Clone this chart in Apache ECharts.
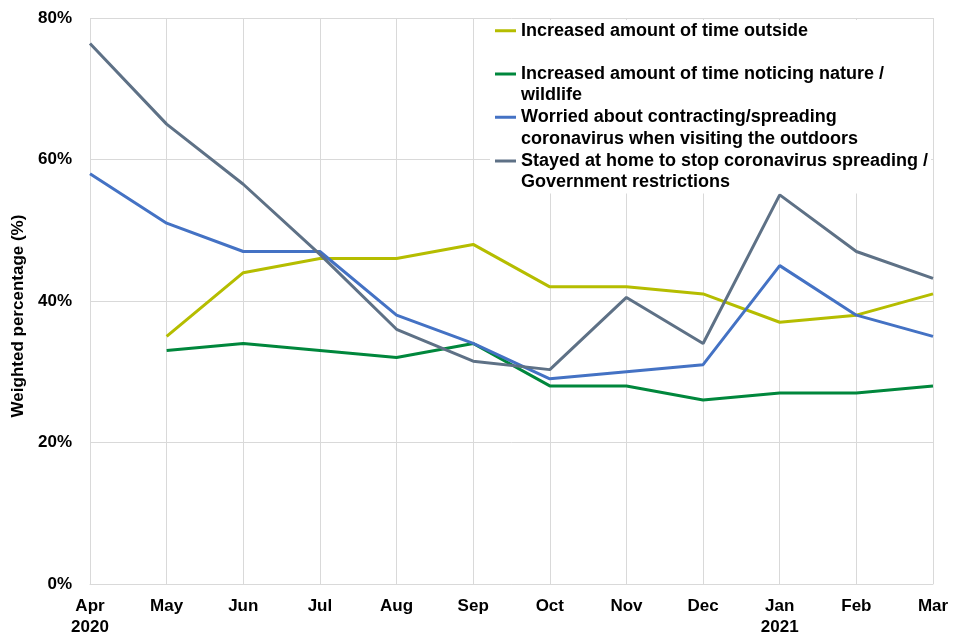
<!DOCTYPE html>
<html>
<head>
<meta charset="utf-8">
<script src="https://cdn.jsdelivr.net/npm/echarts@6/dist/echarts.min.js"></script>
<style>html,body{margin:0;padding:0;background:#fff}#c{width:960px;height:640px}</style>
</head>
<body>
<div id="c"></div>
<script>
var categories = ['Apr\n2020','May','Jun','Jul','Aug','Sep','Oct','Nov','Dec','Jan\n2021','Feb','Mar'];
var timeOutside = [null,35,44,46,46,48,42,42,41,37,38,41];
var noticingNature = [null,33,34,33,32,34,28,28,26,27,27,28];
var worried = [58,51,47,47,38,34,29,30,31,45,38,35];
var stayedHome = [76.4,65,56.5,46.6,36,31.5,30.3,40.5,34,55,47,43.2];
var yTicks = [0,20,40,60,80];

var names = [
  'Increased amount of time outside',
  'Increased amount of time noticing nature / wildlife',
  'Worried about contracting/spreading coronavirus when visiting the outdoors',
  'Stayed at home to stop coronavirus spreading / Government restrictions'
];
var legendLines = [
  'Increased amount of time outside',
  '\nIncreased amount of time noticing nature /\nwildlife',
  '\nWorried about contracting/spreading\ncoronavirus when visiting the outdoors',
  '\nStayed at home to stop coronavirus spreading /\nGovernment restrictions'
];

var colors = ['#B5BD00','#00873C','#4472C4','#5E7186'];
var dataSets = [timeOutside, noticingNature, worried, stayedHome];
var font = 'Liberation Sans, Arial, sans-serif';

var legendTops = [20, 41.75, 85, 128.75];
var legendPads = [[0,123,152,5],[0,0,0,0],[0,0,0,0],[0,0,0,0]];
var legendLefts = [490, 495, 495, 495];

var legends = names.map(function(n, i){
  return {
    orient: 'vertical',
    left: legendLefts[i],
    top: legendTops[i],
    padding: legendPads[i],
    itemWidth: 21,
    itemHeight: 3,
    icon: 'rect',
    backgroundColor: i === 0 ? '#fff' : 'transparent',
    data: [n],
    selectedMode: false,
    formatter: function(){ return legendLines[i]; },
    textStyle: {color: '#000', fontFamily: font, fontWeight: 'bold', fontSize: 18, lineHeight: 21.5}
  };
});

var chart = echarts.init(document.getElementById('c'), null, {renderer:'canvas'});
chart.setOption({
  animation: false,
  backgroundColor: '#fff',
  grid: {left: 90, right: 27, top: 18, bottom: 56, containLabel: false},
  xAxis: {
    type: 'category',
    data: categories,
    boundaryGap: false,
    axisLine: {show: true, lineStyle: {color: '#D9D9D9', width: 1}},
    axisTick: {show: false},
    splitLine: {show: true, lineStyle: {color: '#D9D9D9', width: 1}},
    axisLabel: {color: '#000', fontFamily: font, fontWeight: 'bold', fontSize: 17, lineHeight: 21, margin: 12, interval: 0}
  },
  yAxis: {
    type: 'value',
    min: yTicks[0], max: yTicks[yTicks.length-1], interval: 20,
    name: 'Weighted percentage (%)',
    nameLocation: 'middle',
    nameRotate: 90,
    nameGap: 57,
    nameTextStyle: {color: '#000', fontFamily: font, fontWeight: 'bold', fontSize: 17, padding: [0, 30, 0, 0]},
    axisLine: {show: false},
    axisTick: {show: false},
    splitLine: {show: true, lineStyle: {color: '#D9D9D9', width: 1}},
    axisLabel: {color: '#000', fontFamily: font, fontWeight: 'bold', fontSize: 17, margin: 18, formatter: '{value}%'}
  },
  legend: legends,
  series: names.map(function(n, i){
    return {
      name: n,
      type: 'line',
      data: dataSets[i],
      symbol: 'none',
      showSymbol: false,
      color: colors[i],
      lineStyle: {color: colors[i], width: 3},
      itemStyle: {color: colors[i]}
    };
  })
});
</script>
</body>
</html>
